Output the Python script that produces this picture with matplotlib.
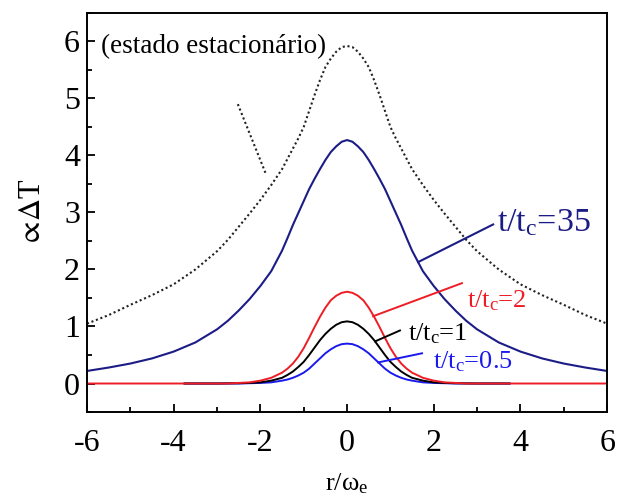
import numpy as np
import matplotlib
matplotlib.use('Agg')
import matplotlib.pyplot as plt
from matplotlib.ticker import MultipleLocator

plt.rcParams['font.family'] = ['Liberation Serif', 'DejaVu Serif']
plt.rcParams['mathtext.fontset'] = 'stix'
plt.rcParams['axes.unicode_minus'] = False

# data

x_full = [-6, -5.5, -5, -4.5, -4, -3.5, -3, -2.75, -2.5, -2.25, -2, -1.75, -1.5, -1.375, -1.25, -1.125,
          -1, -0.875, -0.75, -0.625, -0.5, -0.375, -0.25, -0.125, 0,
          0.125, 0.25, 0.375, 0.5, 0.625, 0.75, 0.875, 1,
          1.125, 1.25, 1.375, 1.5, 1.75, 2, 2.25, 2.5, 2.75, 3, 3.5, 4, 4.5, 5, 5.5, 6]
y_stat = [1.05, 1.2, 1.38, 1.55, 1.74, 2.0, 2.32, 2.52, 2.75, 2.98, 3.22, 3.48, 3.76, 3.94, 4.12, 4.3,
          4.5, 4.78, 5.06, 5.32, 5.55, 5.7, 5.82, 5.9, 5.92,
          5.9, 5.82, 5.7, 5.55, 5.32, 5.06, 4.78, 4.5,
          4.3, 4.12, 3.94, 3.76, 3.48, 3.22, 2.98, 2.75, 2.52, 2.32, 2.0, 1.74, 1.55, 1.38, 1.2, 1.05]
y_t35 = [0.22, 0.28, 0.35, 0.44, 0.56, 0.72, 0.95, 1.1, 1.28, 1.48, 1.71, 1.97, 2.33, 2.55, 2.78, 2.99,
         3.2, 3.41, 3.59, 3.76, 3.92, 4.06, 4.16, 4.24, 4.27,
         4.24, 4.16, 4.06, 3.92, 3.76, 3.59, 3.41, 3.2,
         2.99, 2.78, 2.55, 2.33, 1.97, 1.71, 1.48, 1.28, 1.1, 0.95, 0.72, 0.56, 0.44, 0.35, 0.28, 0.22]
y_t2 = [0, 0, 0, 0, 0, 0, 0, 0, 0.01, 0.02, 0.05, 0.1, 0.19, 0.26, 0.35, 0.47,
        0.62, 0.8, 0.99, 1.17, 1.33, 1.46, 1.54, 1.59, 1.61,
        1.59, 1.54, 1.46, 1.33, 1.17, 0.99, 0.8, 0.62,
        0.47, 0.35, 0.26, 0.19, 0.1, 0.05, 0.02, 0.01, 0, 0, 0, 0, 0, 0, 0, 0]

x_short = [-3.75, -3, -2.5, -2.25, -2, -1.75, -1.5, -1.375, -1.25, -1.125,
           -1, -0.875, -0.75, -0.625, -0.5, -0.375, -0.25, -0.125, 0,
           0.125, 0.25, 0.375, 0.5, 0.625, 0.75, 0.875, 1,
           1.125, 1.25, 1.375, 1.5, 1.75, 2, 2.25, 2.5, 3, 3.75]
y_t1 = [0, 0, 0.005, 0.01, 0.02, 0.05, 0.1, 0.15, 0.21, 0.29,
        0.38, 0.5, 0.63, 0.76, 0.87, 0.96, 1.03, 1.075, 1.09,
        1.075, 1.03, 0.96, 0.87, 0.76, 0.63, 0.5, 0.38,
        0.29, 0.21, 0.15, 0.1, 0.05, 0.02, 0.01, 0.005, 0, 0]
y_t05 = [0, 0, 0, 0.005, 0.01, 0.02, 0.05, 0.07, 0.1, 0.14,
         0.19, 0.26, 0.35, 0.44, 0.53, 0.6, 0.655, 0.69, 0.70,
         0.69, 0.655, 0.6, 0.53, 0.44, 0.35, 0.26, 0.19,
         0.14, 0.1, 0.07, 0.05, 0.02, 0.01, 0.005, 0, 0, 0]

navy = '#1c1c86'
red = '#ee1c24'
blue = '#1a1aee'
dots = (0, (1, 1.3))

fig = plt.figure(figsize=(6.17, 4.97), dpi=100)
ax = fig.add_axes([0.141, 0.171, 0.843, 0.803])

ax.plot(x_short, y_t05, color=blue, lw=1.4)
ax.plot(x_short, y_t1, color='black', lw=1.4)
ax.plot(x_full, y_t2, color=red, lw=1.4)
ax.plot(x_full, y_t35, color=navy, lw=1.5)
ax.plot(x_full, y_stat, color='#222222', lw=1.5, linestyle=dots)

# leader lines
ax.plot([-2.52, -1.87], [4.90, 3.67], color='#222222', lw=1.5, linestyle=dots)
ax.plot([3.37, 1.64], [2.79, 2.13], color=navy, lw=1.5)
ax.plot([2.65, 0.60], [1.76, 1.18], color=red, lw=1.4)
ax.plot([1.22, 0.65], [0.93, 0.74], color='black', lw=1.4)
ax.plot([1.73, 0.72], [0.53, 0.37], color=blue, lw=1.4)

# labels
ax.text(-5.68, 5.91, '(estado estacionário)', fontsize=19.5, va='center', ha='left')
ax.text(3.46, 2.82, r'$\mathregular{t/t_c}$=35', fontsize=24.5, color=navy, va='center', ha='left')
ax.text(2.77, 1.45, r'$\mathregular{t/t_c}$=2', fontsize=19, color=red, va='center', ha='left')
ax.text(1.41, 0.88, r'$\mathregular{t/t_c}$=1', fontsize=19, color='black', va='center', ha='left')
ax.text(1.98, 0.39, r'$\mathregular{t/t_c}$=0.5', fontsize=19, color=blue, va='center', ha='left')

ax.set_xlim(-6, 6)
ax.set_ylim(-0.5, 6.5)
ax.xaxis.set_major_locator(MultipleLocator(2))
ax.xaxis.set_minor_locator(MultipleLocator(1))
ax.yaxis.set_major_locator(MultipleLocator(1))
ax.yaxis.set_minor_locator(MultipleLocator(0.5))
ax.tick_params(which='both', direction='in', top=False, right=False, width=1.3)
ax.tick_params(which='major', length=6, labelsize=23)
ax.tick_params(which='minor', length=3.5)
ax.tick_params(axis='x', pad=12)
ax.tick_params(axis='y', pad=5)
for s in ax.spines.values():
    s.set_linewidth(1.4)

ax.set_ylabel(r'$\propto\!\Delta$T', fontsize=22, labelpad=12)
ax.set_xlabel(r'r/ω$_\mathregular{e}$', fontsize=19, labelpad=10)

plt.savefig('out.png', dpi=100)
